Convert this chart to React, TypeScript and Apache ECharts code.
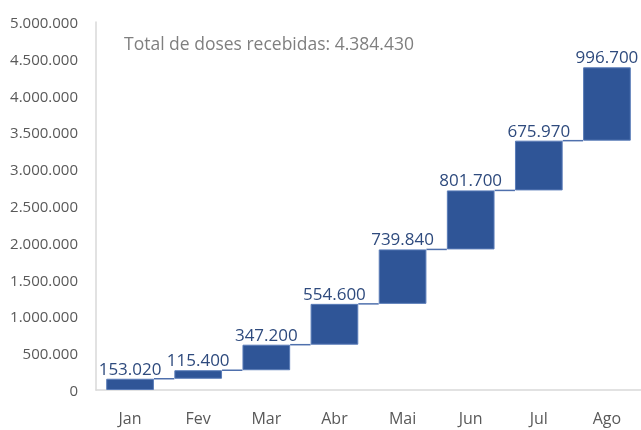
import React, { useEffect, useRef } from "react";
import * as echarts from "echarts";

const categories = ["Jan", "Fev", "Mar", "Abr", "Mai", "Jun", "Jul", "Ago"];
const values = [153020, 115400, 347200, 554600, 739840, 801700, 675970, 996700];
const yTicks = { min: 0, max: 5000000, interval: 500000 };
const totalLabel = "Total de doses recebidas: 4.384.430";

const fmt = (v: number) => String(Math.round(v)).replace(/\B(?=(\d{3})+(?!\d))/g, ".");

export default function App() {
  const ref = useRef<HTMLDivElement>(null);
  useEffect(() => {
    if (!ref.current) return;
    const chart = echarts.init(ref.current, undefined, { renderer: "svg" });
    const bases: number[] = [];
    const cums: number[] = [];
    let acc = 0;
    values.forEach((v) => {
      bases.push(acc);
      acc += v;
      cums.push(acc);
    });
    const barRatio = 0.7;
    const font = "'Open Sans', 'Noto Sans', sans-serif";
    chart.setOption({
      animation: false,
      textStyle: { fontFamily: font },
      grid: { left: 96, right: 0, top: 22, bottom: 40, containLabel: false },
      graphic: [
        {
          type: "text",
          left: 124,
          top: 34,
          style: { text: totalLabel, fontSize: 17.5, fill: "#7f7f7f", fontFamily: font },
        },
      ],
      xAxis: {
        type: "category",
        data: categories,
        axisLine: { lineStyle: { color: "#d9d9d9", width: 1.5 } },
        axisTick: { show: false },
        axisLabel: { color: "#595959", fontSize: 16, margin: 20, fontFamily: font },
      },
      yAxis: {
        type: "value",
        min: yTicks.min,
        max: yTicks.max,
        interval: yTicks.interval,
        splitLine: { show: false },
        axisLine: { show: true, lineStyle: { color: "#d9d9d9", width: 1.5 } },
        axisTick: { show: false },
        axisLabel: { color: "#595959", fontSize: 15, margin: 18, formatter: (v: number) => fmt(v), fontFamily: font },
      },
      series: [
        {
          type: "bar",
          stack: "w",
          data: bases,
          itemStyle: { color: "transparent" },
          barWidth: `${barRatio * 100}%`,
          silent: true,
        },
        {
          type: "bar",
          stack: "w",
          data: values,
          barWidth: `${barRatio * 100}%`,
          itemStyle: { color: "#2f5597", borderColor: "#5a7cb8", borderWidth: 1 },
          label: {
            show: true,
            position: "top",
            distance: 2,
            color: "#2e4a7d",
            fontSize: 17,
            fontFamily: font,
            formatter: (p: any) => fmt(p.value),
          },
        },
        {
          type: "custom",
          data: cums.slice(0, -1).map((c, i) => [i, c]),
          encode: { x: 0, y: 1 },
          z: 1,
          renderItem: (params: any, api: any) => {
            const i = api.value(0);
            const c = api.value(1);
            const s = api.coord([i, c]);
            const e = api.coord([i + 1, c]);
            const hw = (api.size([1, 0])[0] * barRatio) / 2;
            return {
              type: "line",
              shape: { x1: s[0] + hw, y1: s[1], x2: e[0] - hw, y2: e[1] },
              style: { stroke: "#4f70ad", lineWidth: 1.5 },
            };
          },
        },
      ],
    });
    return () => chart.dispose();
  }, []);
  return <div ref={ref} style={{ position: "fixed", left: 0, top: 0, width: 641, height: 430 }} />;
}
